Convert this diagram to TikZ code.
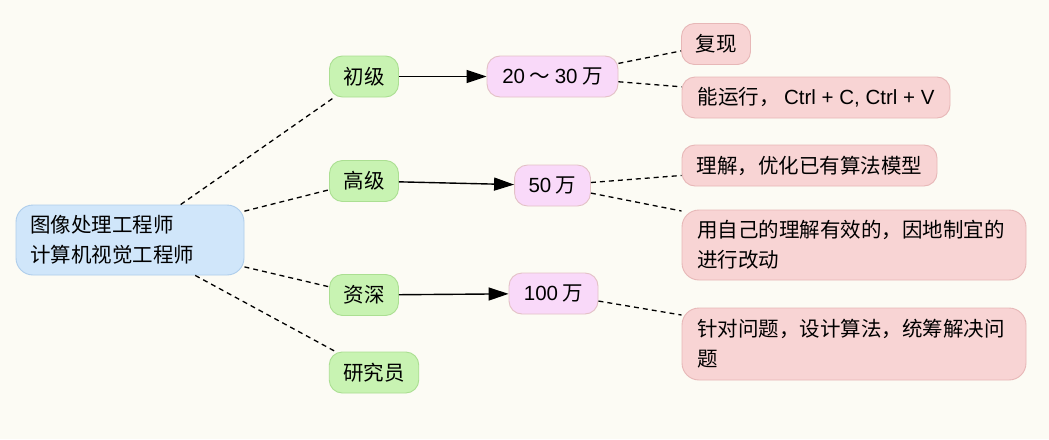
\documentclass[tikz,border=0pt]{standalone}
\usepackage{fontspec}
\setmainfont{Noto Sans CJK SC}
\newfontfamily\lat{Liberation Sans}
\usetikzlibrary{arrows.meta}
\definecolor{bg}{HTML}{FCFBF4}
\definecolor{rootfill}{HTML}{D0E6FA}
\definecolor{rootline}{HTML}{AECDEB}
\definecolor{lvfill}{HTML}{C8F3B2}
\definecolor{lvline}{HTML}{ABDF92}
\definecolor{payfill}{HTML}{F9D9F9}
\definecolor{payline}{HTML}{E3C1C6}
\definecolor{notefill}{HTML}{F8D4D4}
\definecolor{noteline}{HTML}{E7B7B7}
\tikzset{
  box/.style={rectangle, rounded corners=13pt, line width=0.9pt, inner xsep=14pt, inner ysep=0pt,
    font=\fontsize{20.5}{30}\selectfont, text=black},
  rootbox/.style={box, fill=rootfill, draw=rootline, rounded corners=17pt, align=left, text width=200pt, minimum height=70pt},
  levelbox/.style={box, fill=lvfill, draw=lvline, minimum height=41pt},
  paybox/.style={box, fill=payfill, draw=payline, minimum height=41pt},
  notebox/.style={box, fill=notefill, draw=noteline, minimum height=41pt},
  wide/.style={align=left, text width=314pt, inner xsep=15pt, rounded corners=17pt},
  link/.style={draw=black, line width=1.3pt, dash pattern=on 5pt off 4pt},
  flow/.style={draw=black, line width=1.4pt, -{Triangle[length=20pt, width=13pt]}},
}
\begin{document}
\begin{tikzpicture}[x=1pt, y=-1pt]
  \fill[bg] (0,0) rectangle (1049,439);
  \useasboundingbox (0,0) rectangle (1049,439);

  \node[rootbox] (root) at (130,240) {图像处理工程师\\计算机视觉工程师};

  \node[levelbox, minimum width=68pt] (c1) at (364,76.5) {初级};
  \node[levelbox, minimum width=68pt] (c2) at (364,181) {高级};
  \node[levelbox, minimum width=68pt] (c3) at (364,295) {资深};
  \node[levelbox, minimum width=88pt] (c4) at (374,372.5) {研究员};

  \node[paybox, minimum width=131pt] (s1) at (552.5,76.5) {{\lat 20} ～ {\lat 30} 万};
  \node[paybox, minimum width=75pt] (s2) at (552.5,185.5) {{\lat 50} 万};
  \node[paybox, minimum width=89pt] (s3) at (553.5,293.5) {{\lat 100} 万};

  \node[notebox, minimum width=68pt] (d1) at (716,44) {复现};
  \node[notebox, minimum width=268pt] (d2) at (816,97.5) {能运行， {\lat Ctrl + C, Ctrl + V}};
  \node[notebox, minimum width=255pt] (d3) at (809.5,165.5) {理解，优化已有算法模型};
  \node[notebox, wide, minimum height=70pt] (d4) at (854,245) {用自己的理解有效的，因地制宜的\\进行改动};
  \node[notebox, wide, minimum height=72pt] (d5) at (854,344) {针对问题，设计算法，统筹解决问\\题};

  \draw[link] (root) -- (c1);
  \draw[link] (root) -- (c2);
  \draw[link] (root) -- (c3);
  \draw[link] (root) -- (c4);

  \draw[flow] (c1) -- (s1);
  \draw[flow] (c2) -- (s2);
  \draw[flow] (c3) -- (s3);

  \draw[link] (s1) -- (d1);
  \draw[link] (s1) -- (d2);
  \draw[link] (s2) -- (d3);
  \draw[link] (s2) -- (d4);
  \draw[link] (s3) -- (d5);
\end{tikzpicture}
\end{document}
